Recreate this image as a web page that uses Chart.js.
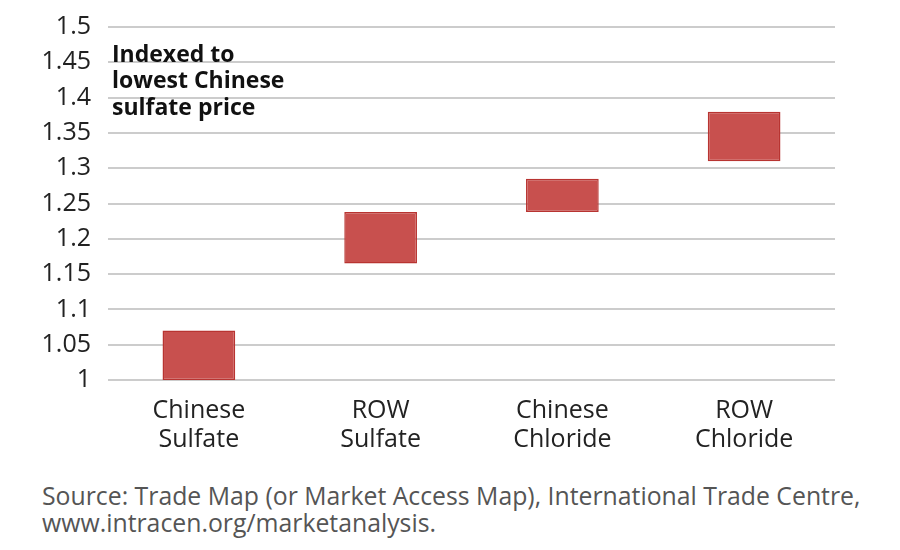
<!DOCTYPE html>
<html>
<head>
<meta charset="utf-8">
<script src="https://cdn.jsdelivr.net/npm/chart.js@4"></script>
<style>
	body { margin:0; background:#fff; }
	#wrap { position:relative; width:900px; height:550px; overflow:hidden; }
	#box { position:absolute; left:0; top:-5px; width:900px; height:470px; }
	#src { position:absolute; left:42px; top:482px; font:24.8px 'Open Sans', sans-serif; color:#555; line-height:27px; white-space:nowrap; }
</style>
</head>
<body>
<div id="wrap">
	<div id="box"><canvas id="c"></canvas></div>
	<div id="src">Source: Trade Map (or Market Access Map), International Trade Centre,<br>www.intracen.org/marketanalysis.</div>
</div>
<script>
const categories = [['Chinese','Sulfate'], ['ROW','Sulfate'], ['Chinese','Chloride'], ['ROW','Chloride']]
const lowValues = [1.0, 1.165, 1.238, 1.31]
const highValues = [1.07, 1.238, 1.285, 1.38]
const noteLines = ['Indexed to', 'lowest Chinese', 'sulfate price']

const note = {
	id: 'note',
	afterDraw: c => {
		const x = c.ctx, a = c.chartArea
		x.save()
		x.font = 'bold 23px "Open Sans"'
		x.fillStyle = '#111'
		x.textBaseline = 'middle'
		noteLines.forEach((t, i) => x.fillText(t, a.left + 4, a.top + 28 + i * 26.5))
		x.restore()
	}
}

new Chart(document.getElementById('c'), {
	type: 'bar',
	data: {
		labels: categories,
		datasets: [{
			data: categories.map((c, i) => [lowValues[i], highValues[i]]),
			backgroundColor: '#c8504e',
			borderColor: '#b83431',
			borderWidth: 1.5,
			borderSkipped: false,
			barPercentage: 0.4,
			categoryPercentage: 1,
		}]
	},
	options: {
		responsive: true,
		maintainAspectRatio: false,
		animation: false,
		layout: { padding: { left: 0, right: 65, top: 20, bottom: 0 } },
		plugins: { legend: { display: false }, tooltip: { enabled: false } },
		scales: {
			x: {
				grid: { display: false },
				border: { display: false },
				ticks: { color: '#222', font: { family: 'Open Sans', size: 25, lineHeight: 1.16 }, padding: 8, maxRotation: 0 },
				afterFit: s => { s.height = 85 },
			},
			y: {
				min: 1, max: 1.5,
				grid: { color: '#cccccc', lineWidth: 2, drawTicks: false },
				border: { display: false },
				ticks: { stepSize: 0.05, color: '#222', padding: 17, font: { family: 'Open Sans', size: 25 },
					callback: v => String(Math.round(v * 100) / 100) },
				afterFit: s => { s.width = 108 },
			}
		}
	},
	plugins: [note]
})
</script>
</body>
</html>
